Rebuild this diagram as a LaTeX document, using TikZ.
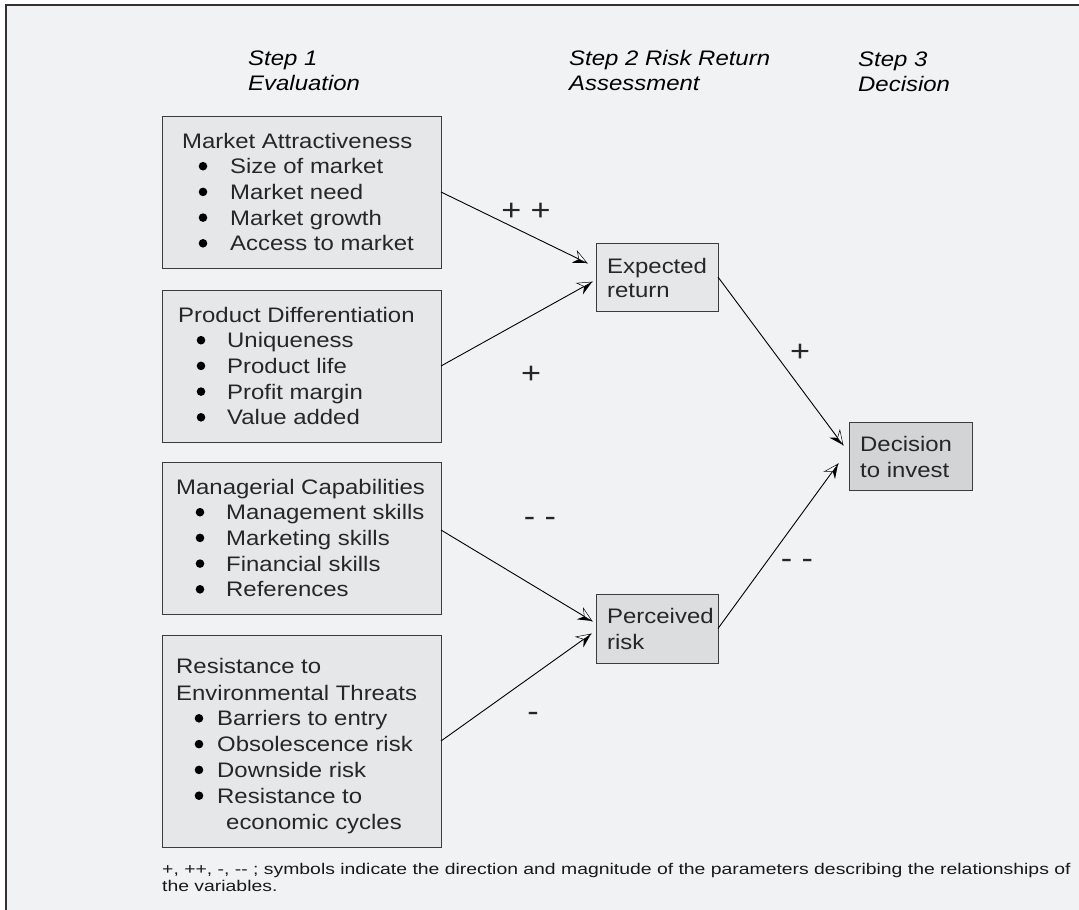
\documentclass[tikz,border=0pt]{standalone}
\usepackage{fontspec}
\setmainfont{Liberation Sans}[FakeStretch=1.14]
\newfontfamily\notefont{Liberation Sans}[FakeStretch=1.25]
\usetikzlibrary{calc,decorations.markings}

\definecolor{pagebg}{RGB}{241,242,244}
\definecolor{framec}{RGB}{50,50,50}
\definecolor{boxfill}{RGB}{230,231,233}
\definecolor{riskfill}{RGB}{220,221,223}
\definecolor{decfill}{RGB}{211,212,214}
\definecolor{boxline}{RGB}{60,60,60}

\begin{document}
\begin{tikzpicture}[x=1pt,y=-1pt,
  box/.style={draw=boxline, line width=1pt, inner sep=0pt, outer sep=0pt, anchor=north west},
  critbox/.style={box, fill=boxfill, minimum width=279pt},
  txt/.style={inner sep=0pt, anchor=base west, font=\fontsize{21}{25}\selectfont, text=black!85},
  steptxt/.style={txt, font=\fontsize{21}{25}\selectfont\itshape, text=black},
  note/.style={inner sep=0pt, anchor=base west, font=\notefont\fontsize{15.5}{17}\selectfont, text=black!90},
  sign/.style={inner sep=0pt, anchor=base, font=\fontsize{30}{32}\selectfont, text=black!85},
  twotone/.style={postaction={decorate, decoration={markings, mark=at position 1 with {
      \fill[black] (0,0) -- (-14pt,-6.5pt) -- (-9pt,0) -- cycle;
      \filldraw[fill=white, draw=black, line width=0.5pt] (0,0) -- (-14pt,6.5pt) -- (-9pt,0) -- cycle;
    }}}},
  conn/.style={draw=black, line width=0.9pt, twotone},
  dot/.style={fill=black}
]
\useasboundingbox (0,0) rectangle (1079,910);
\fill[white] (0,0) rectangle (1079,910);
\fill[pagebg] (6,5) rectangle (1079,910);
\draw[framec, line width=1.4pt] (6,910) -- (6,5) -- (1079,5);

% column headings
\node[steptxt] (h1a) at (248,65) {Step 1};
\node[steptxt] (h1b) at (248,90) {Evaluation};
\node[steptxt] (h2a) at (569,65) {Step 2 Risk Return};
\node[steptxt] (h2b) at (569,90) {Assessment};
\node[steptxt] (h3a) at (858,66) {Step 3};
\node[steptxt] (h3b) at (858,91) {Decision};

% evaluation criteria
\node[critbox, minimum height=152pt] (b1) at (162,116) {};
\node[txt] (b1t) at (182,148) {Market Attractiveness};
\foreach \t [count=\i] in {Size of market, Market need, Market growth, Access to market}{
  \fill[dot] (203,{148+25.7*\i-7.5}) circle (4.3pt);
  \node[txt] (b1i\i) at (230,{148+25.7*\i}) {\t};
}

\node[critbox, minimum height=152pt] (b2) at (162,290) {};
\node[txt] (b2t) at (178,322) {Product Differentiation};
\foreach \t [count=\i] in {Uniqueness, Product life, Profit margin, Value added}{
  \fill[dot] (201,{322+25.7*\i-7.5}) circle (4.3pt);
  \node[txt] (b2i\i) at (227,{322+25.7*\i}) {\t};
}

\node[critbox, minimum height=152pt] (b3) at (162,462) {};
\node[txt] (b3t) at (176,494) {Managerial Capabilities};
\foreach \t [count=\i] in {Management skills, Marketing skills, Financial skills, References}{
  \fill[dot] (200,{494+25.7*\i-7.5}) circle (4.3pt);
  \node[txt] (b3i\i) at (226,{494+25.7*\i}) {\t};
}

\node[critbox, minimum height=212pt] (b4) at (162,635) {};
\node[txt] (b4t) at (176,673) {Resistance to};
\node[txt] (b4u) at (176,700) {Environmental Threats};
\foreach \t [count=\i] in {Barriers to entry, Obsolescence risk, Downside risk, Resistance to}{
  \fill[dot] (199,{700+25.8*\i-7.5}) circle (4.3pt);
  \node[txt] (b4i\i) at (217,{700+25.8*\i}) {\t};
}
\node[txt] (b4i5) at (226,829) {economic cycles};

% risk / return assessment
\node[box, fill=boxfill, minimum width=122pt, minimum height=68pt] (er) at (596,243) {};
\node[txt] (er1) at (607,273) {Expected};
\node[txt] (er2) at (607,297) {return};

\node[box, fill=riskfill, minimum width=122pt, minimum height=69pt] (pr) at (596,594) {};
\node[txt] (pr1) at (607,623) {Perceived};
\node[txt] (pr2) at (607,649) {risk};

% decision
\node[box, fill=decfill, minimum width=123pt, minimum height=68pt] (dc) at (849,422) {};
\node[txt] (dc1) at (860,451) {Decision};
\node[txt] (dc2) at (860,477) {to invest};

% relationships
\draw[conn] (b1.east) -- ($(er.west)+(-9,-14)$);
\draw[conn] (b2.east) -- ($(er.west)+(-4,5)$);
\draw[conn] ($(b3.east)+(0,-8)$) -- ($(pr.west)+(-4,-7.5)$);
\draw[conn] (b4.east) -- ($(pr.west)+(-5,5.5)$);
\draw[conn] (er.east) -- ($(dc.west)+(-6,-11)$);
\draw[conn] (pr.east) -- ($(dc.west)+(-11,8)$);

\node[sign] (s1) at (526,220) {+ +};
\node[sign] (s2) at (531,383) {+};
\node[sign] (s3) at (800,361) {+};
\node[sign] (s4) at (540,526) {- -};
\node[sign] (s5) at (533,721) {-};
\node[sign] (s6) at (797,568) {- -};

% footnote
\node[note] (n1) at (162,874) {+, ++, -, -{}- ; symbols indicate the direction and magnitude of the parameters describing the relationships of};
\node[note] (n2) at (162,891) {the variables.};
\end{tikzpicture}
\end{document}
